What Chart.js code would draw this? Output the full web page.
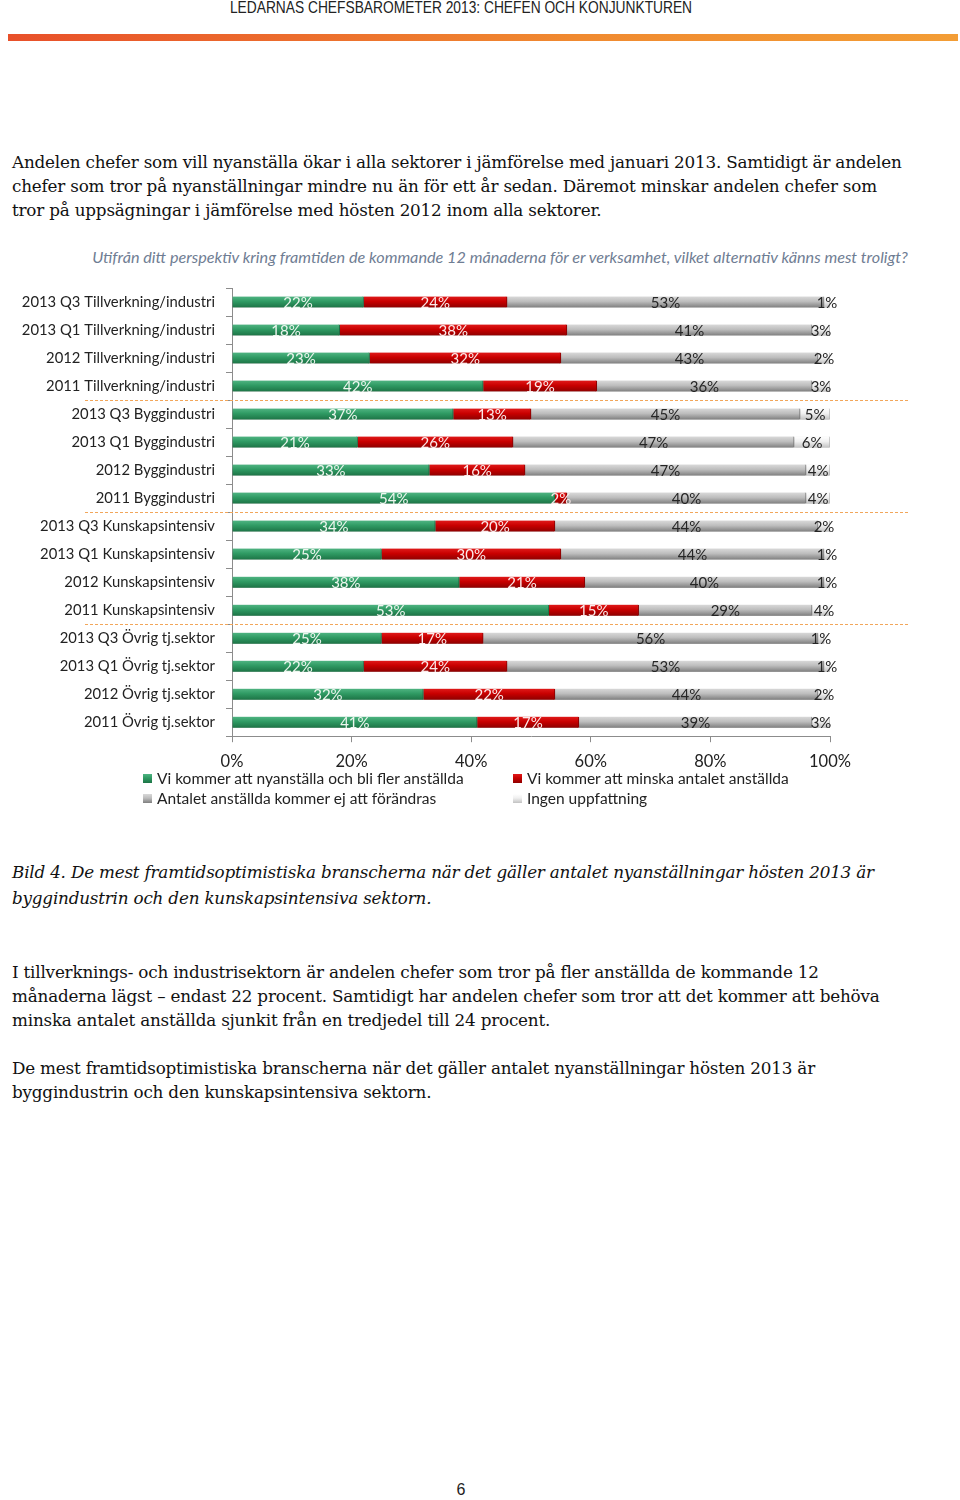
<!DOCTYPE html>
<html lang="sv">
<head>
<meta charset="utf-8">
<title>Ledarnas chefsbarometer 2013</title>
<script src="https://cdn.jsdelivr.net/npm/chart.js@4.4.1/dist/chart.umd.min.js"></script>
<style>
  html, body { margin: 0; padding: 0; background: #fff; }
  body { width: 960px; height: 1500px; position: relative; overflow: hidden; }
  .header { position: absolute; left: 0; top: -2px; width: 922px; text-align: center;
            font-family: "Liberation Sans", sans-serif; font-size: 17px; color: #222;
            transform: scaleX(0.81); transform-origin: 461px 0; }
  .rule { position: absolute; left: 8px; top: 34px; width: 950px; height: 7px;
          background: linear-gradient(to right, #e8502a, #f08a30 60%, #f39d35); }
  .txt { position: absolute; left: 12px; font-family: "DejaVu Serif", serif; font-size: 16.8px;
         line-height: 24px; color: #111; white-space: nowrap; letter-spacing: -0.2px; }
  .caption { font-style: italic; line-height: 26px; }
  .charttitle { position: absolute; left: 0; width: 1000px; top: 247px; text-align: center;
                font-family: Lato, sans-serif; font-style: italic; font-size: 16.2px; line-height: 20px;
                color: #6f7d93; white-space: nowrap; }
  #chartBox { position: absolute; left: 0; top: 240px; width: 960px; height: 549px; }
  #legend { position: absolute; left: 0; top: 768px; width: 960px; height: 40px;
            font-family: Lato, sans-serif; font-size: 15.5px; color: #222; }
  .item { position: absolute; display: flex; align-items: center; height: 20px; white-space: nowrap; }
  .swatch { width: 9px; height: 9px; margin-right: 5px; }
  .pagenum { position: absolute; left: 0; width: 922px; top: 1481px; text-align: center;
             font-family: "Liberation Sans", sans-serif; font-size: 16px; color: #222; }
</style>
</head>
<body>
<div class="header">LEDARNAS CHEFSBAROMETER 2013: CHEFEN OCH KONJUNKTUREN</div>
<div class="rule"></div>

<div class="txt" style="top:150px">Andelen chefer som vill nyanställa ökar i alla sektorer i jämförelse med januari 2013. Samtidigt är andelen<br>chefer som tror på nyanställningar mindre nu än för ett år sedan. Däremot minskar andelen chefer som<br>tror på uppsägningar i jämförelse med hösten 2012 inom alla sektorer.</div>

<div class="charttitle" id="chartTitle"></div>
<div id="chartBox"><canvas id="sektorer"></canvas></div>
<div id="legend"></div>

<div class="txt caption" style="top:859px">Bild 4. De mest framtidsoptimistiska branscherna när det gäller antalet nyanställningar hösten 2013 är<br>byggindustrin och den kunskapsintensiva sektorn.</div>

<div class="txt" style="top:960px">I tillverknings- och industrisektorn är andelen chefer som tror på fler anställda de kommande 12<br>månaderna lägst – endast 22 procent. Samtidigt har andelen chefer som tror att det kommer att behöva<br>minska antalet anställda sjunkit från en tredjedel till 24 procent.</div>

<div class="txt" style="top:1056px">De mest framtidsoptimistiska branscherna när det gäller antalet nyanställningar hösten 2013 är<br>byggindustrin och den kunskapsintensiva sektorn.</div>

<div class="pagenum">6</div>

<script>
// Kategorier (uppifrån och ned)
const categories = [
    '2013 Q3 Tillverkning/industri',
    '2013 Q1 Tillverkning/industri',
    '2012 Tillverkning/industri',
    '2011 Tillverkning/industri',
    '2013 Q3 Byggindustri',
    '2013 Q1 Byggindustri',
    '2012 Byggindustri',
    '2011 Byggindustri',
    '2013 Q3 Kunskapsintensiv',
    '2013 Q1 Kunskapsintensiv',
    '2012 Kunskapsintensiv',
    '2011 Kunskapsintensiv',
    '2013 Q3 Övrig tj.sektor',
    '2013 Q1 Övrig tj.sektor',
    '2012 Övrig tj.sektor',
    '2011 Övrig tj.sektor'
];

const nyanstalla = [22, 18, 23, 42, 37, 21, 33, 54, 34, 25, 38, 53, 25, 22, 32, 41];
const minska     = [24, 38, 32, 19, 13, 26, 16,  2, 20, 30, 21, 15, 17, 24, 22, 17];
const oforandrat = [53, 41, 43, 36, 45, 47, 47, 40, 44, 44, 40, 29, 56, 53, 44, 39];
const ingen      = [ 1,  3,  2,  3,  5,  6,  4,  4,  2,  1,  1,  4,  1,  1,  2,  3];

const seriesNames = [
    'Vi kommer att nyanställa och bli fler anställda',
    'Vi kommer att minska antalet anställda',
    'Antalet anställda kommer ej att förändras',
    'Ingen uppfattning'
];

const xTicks = [0, 20, 40, 60, 80, 100];
const groupStarts = [4, 8, 12]; // streckad linje före dessa rader

const chartTitle = 'Utifrån ditt perspektiv kring framtiden de kommande 12 månaderna för er verksamhet, vilket alternativ känns mest troligt?';

// färger: topp, mitt, botten
const greenStops = ['#4fb482', '#2f9a63', '#1d7446'];
const redStops   = ['#e01a1a', '#c80000', '#8f0000'];
const greyStops  = ['#d9d9d9', '#bdbdbd', '#7f7f7f'];
const lightStops = ['#ffffff', '#f0f0f0', '#c2c2c2'];

document.getElementById('chartTitle').textContent = chartTitle;

function barFill(stops) {
    return ctx => {
        const chart = ctx.chart;
        if (!chart.chartArea || ctx.dataIndex === undefined) return stops[1];
        const y = chart.scales.y.getPixelForValue(ctx.dataIndex);
        const g = chart.ctx.createLinearGradient(0, y - 5.5, 0, y + 5.5);
        g.addColorStop(0, stops[0]);
        g.addColorStop(0.45, stops[1]);
        g.addColorStop(1, stops[2]);
        return g;
    };
}

const barShadow = {
    id: 'barShadow',
    beforeDatasetDraw(chart) {
        const c = chart.ctx;
        c.save();
        c.shadowColor = 'rgba(0,0,0,0.3)';
        c.shadowBlur = 3;
        c.shadowOffsetY = 2;
    },
    afterDatasetDraw(chart) {
        chart.ctx.restore();
    }
};

const segmentLabels = {
    id: 'segmentLabels',
    afterDatasetsDraw(chart) {
        const c = chart.ctx;
        c.save();
        c.font = '15px Lato';
        c.textAlign = 'center';
        c.textBaseline = 'middle';
        chart.data.datasets.forEach((ds, di) => {
            const meta = chart.getDatasetMeta(di);
            meta.data.forEach((bar, i) => {
                const x = Math.min((bar.x + bar.base) / 2, chart.chartArea.right - 1);
                c.fillStyle = ds.labelColor;
                c.fillText(ds.data[i] + '%', x, bar.y + 1);
            });
        });
        c.restore();
    }
};

const groupLines = {
    id: 'groupLines',
    afterDraw(chart) {
        const y = chart.scales.y;
        const area = chart.chartArea;
        const c = chart.ctx;
        c.save();
        c.strokeStyle = '#f2a65a';
        c.lineWidth = 1;
        c.setLineDash([3, 2]);
        groupStarts.forEach(k => {
            const py = Math.round((y.getPixelForValue(k - 1) + y.getPixelForValue(k)) / 2) + 0.5;
            c.beginPath();
            c.moveTo(area.left - 147, py);
            c.lineTo(area.right + 78, py);
            c.stroke();
        });
        c.restore();
    }
};

const datasets = [
    { label: seriesNames[0], data: nyanstalla, stops: greenStops, labelColor: '#eef6ef' },
    { label: seriesNames[1], data: minska,     stops: redStops,   labelColor: '#fbeaea' },
    { label: seriesNames[2], data: oforandrat, stops: greyStops,  labelColor: '#262626' },
    { label: seriesNames[3], data: ingen,      stops: lightStops, labelColor: '#262626' }
].map(d => ({
    label: d.label,
    data: d.data,
    labelColor: d.labelColor,
    backgroundColor: barFill(d.stops),
    borderColor: d.stops[2],
    borderWidth: { top: 0, bottom: 0, left: 0, right: 1 },
    borderSkipped: false,
    barThickness: 11
}));

new Chart(document.getElementById('sektorer').getContext('2d'), {
    type: 'bar',
    data: { labels: categories, datasets: datasets },
    options: {
        indexAxis: 'y',
        responsive: true,
        maintainAspectRatio: false,
        animation: false,
        layout: { padding: { left: 0, right: 130, top: 48, bottom: 7 } },
        scales: {
            x: {
                stacked: true,
                min: 0,
                max: 100,
                afterBuildTicks: scale => { scale.ticks = xTicks.map(v => ({ value: v })); },
                ticks: { callback: v => v + '%', color: '#222', font: { family: 'Lato', size: 16.5 }, padding: 10 },
                grid: { drawOnChartArea: false, tickLength: 6, color: '#8c8c8c' },
                border: { color: '#8c8c8c' }
            },
            y: {
                stacked: true,
                afterFit: scale => { scale.width = 232; },
                ticks: { color: '#222', font: { family: 'Lato', size: 14.8 }, padding: 11, autoSkip: false },
                grid: { drawOnChartArea: false, offset: true, tickLength: 6, color: '#8c8c8c' },
                border: { color: '#8c8c8c' }
            }
        },
        plugins: {
            legend: { display: false },
            tooltip: { enabled: false },
            title: { display: false }
        }
    },
    plugins: [barShadow, segmentLabels, groupLines]
});

// legend i två kolumner
const legendPos = [[143, 0], [513, 0], [143, 20], [513, 20]];
const legendStops = [greenStops, redStops, greyStops, lightStops];
const legendEl = document.getElementById('legend');
seriesNames.forEach((name, i) => {
    const item = document.createElement('div');
    item.className = 'item';
    item.style.left = legendPos[i][0] + 'px';
    item.style.top = legendPos[i][1] + 'px';
    const sw = document.createElement('span');
    sw.className = 'swatch';
    const s = legendStops[i];
    sw.style.background = `linear-gradient(to bottom, ${s[0]}, ${s[1]} 45%, ${s[2]})`;
    item.appendChild(sw);
    item.appendChild(document.createTextNode(name));
    legendEl.appendChild(item);
});
</script>
</body>
</html>
